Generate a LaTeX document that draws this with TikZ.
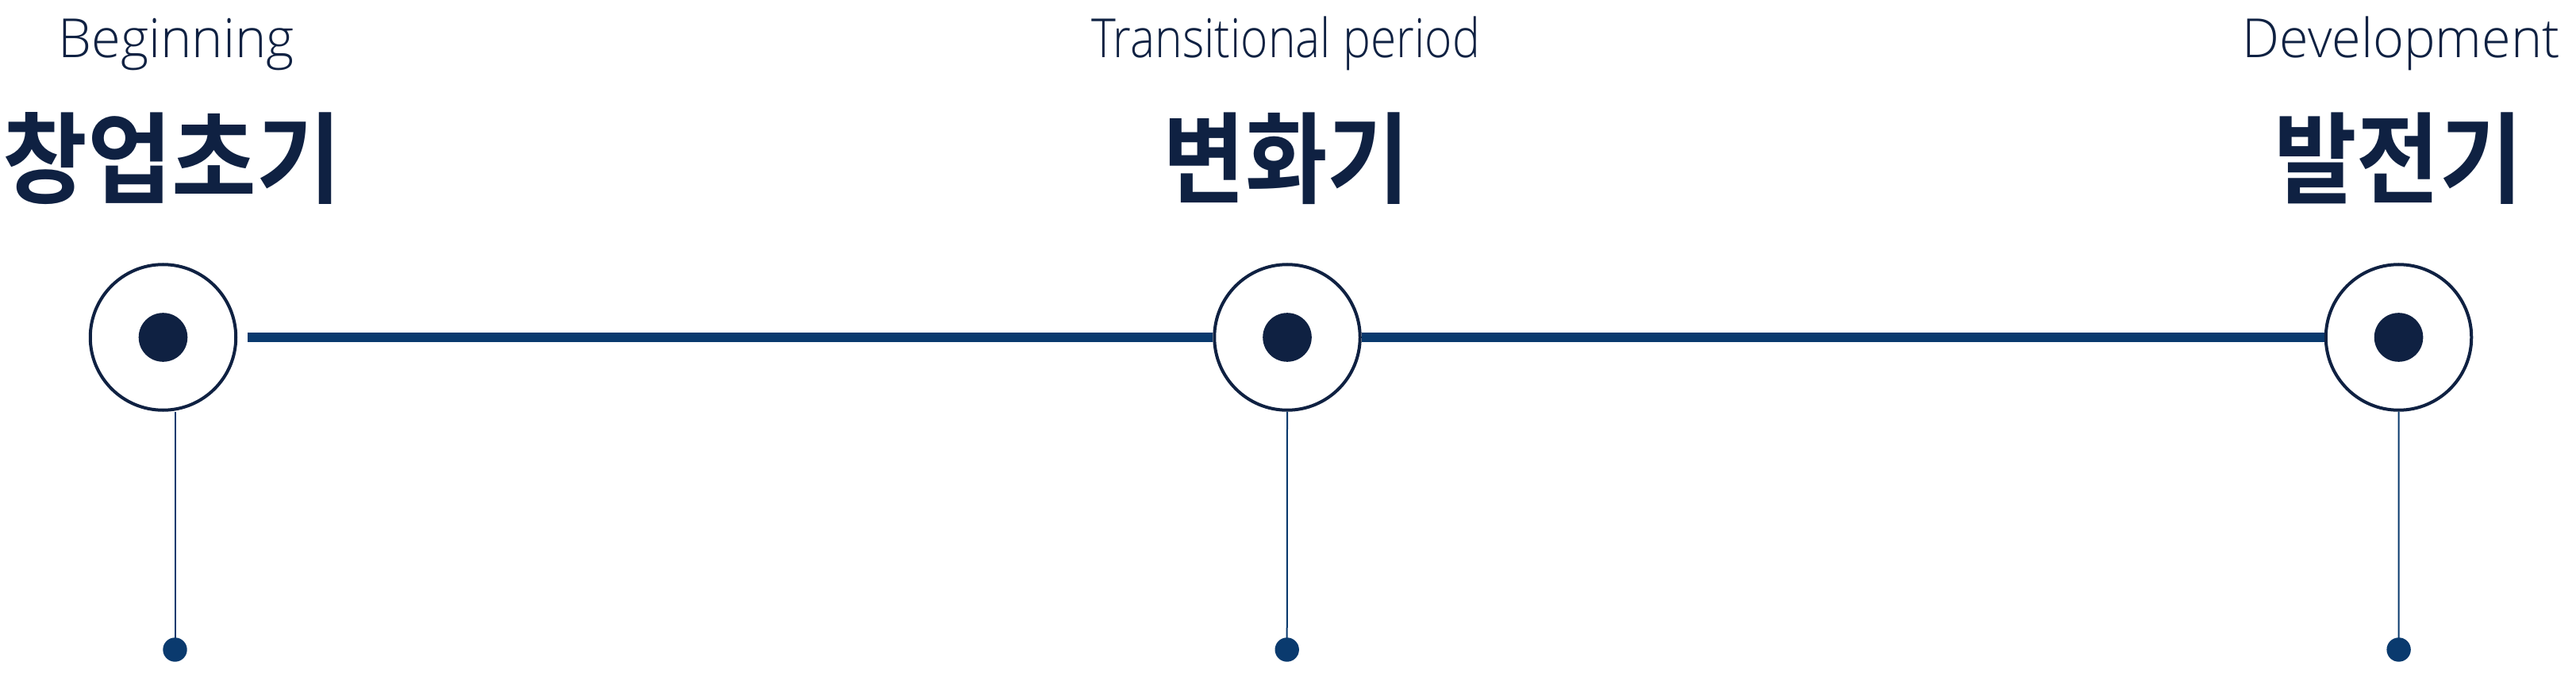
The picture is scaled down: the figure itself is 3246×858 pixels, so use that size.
\documentclass[tikz,border=0pt]{standalone}
\usepackage{graphicx}
\usepackage{fontspec}
\setmainfont{Open Sans Light}
\newfontfamily\kofont{Noto Sans CJK KR Bold}
\definecolor{navy}{HTML}{0F2142}
\definecolor{lineblue}{HTML}{0A3A6E}
\newcommand{\fitto}[2]{%
  \setbox0=\hbox{#2}%
  \pgfmathsetmacro\fitfactor{#1/\the\wd0}%
  \scalebox{\fitfactor}[1]{\box0}}
\tikzset{
  ring/.style={circle, draw=navy, line width=4pt, fill=white, inner sep=0pt, minimum size=183.5pt},
  core/.style={circle, fill=navy, inner sep=0pt, minimum size=61.6pt},
  tipdot/.style={circle, fill=lineblue, inner sep=0pt, minimum size=30.4pt},
  stem/.style={draw=lineblue, line width=2pt},
  bar/.style={draw=lineblue, line width=12pt},
  entext/.style={text=navy, anchor=base, inner sep=0pt, font=\fontsize{68}{70}\selectfont},
  kotext/.style={text=navy, anchor=center, inner sep=0pt, font=\kofont\fontsize{125}{130}\selectfont},
}
\begin{document}
\begin{tikzpicture}[x=1pt,y=-1pt]
\useasboundingbox[fill=white] (0,0) rectangle (3246,858);
% rings
\node[ring] (c1) at (205.5,425) {};
\node[ring] (c2) at (1622,425) {};
\node[ring] (c3) at (3022.5,425) {};
\node[core] (d1) at (c1) {};
\node[core] (d2) at (c2) {};
\node[core] (d3) at (c3) {};
% bottom dots
\node[tipdot] (e1) at (220.5,818.5) {};
\node[tipdot] (e2) at (1621.7,818.5) {};
\node[tipdot] (e3) at (3022.6,818.5) {};
% stems
\draw[stem] (e1 |- c1.south) -- (e1.center);
\draw[stem] (c2.south) -- (e2.center);
\draw[stem] (c3.south) -- (e3.center);
% bars
\coordinate (s1) at (312.3,425);
\draw[bar] (s1) -- (c2.west);
\draw[bar] (c2.east) -- (c3.west);
% labels
\node[entext] (t1) at (222,72.7) {\fitto{297}{Beginning}};
\node[entext] (t2) at (1620,72.7) {\fitto{490}{Transitional period}};
\node[entext] (t3) at (3025.8,72.7) {\fitto{400}{Development}};
\node[kotext] (k1) at (217,200) {\fitto{427}{창업초기}};
\node[kotext] (k2) at (1621,200) {\fitto{311}{변화기}};
\node[kotext] (k3) at (3022,200) {\fitto{314}{발전기}};
\end{tikzpicture}
\end{document}
